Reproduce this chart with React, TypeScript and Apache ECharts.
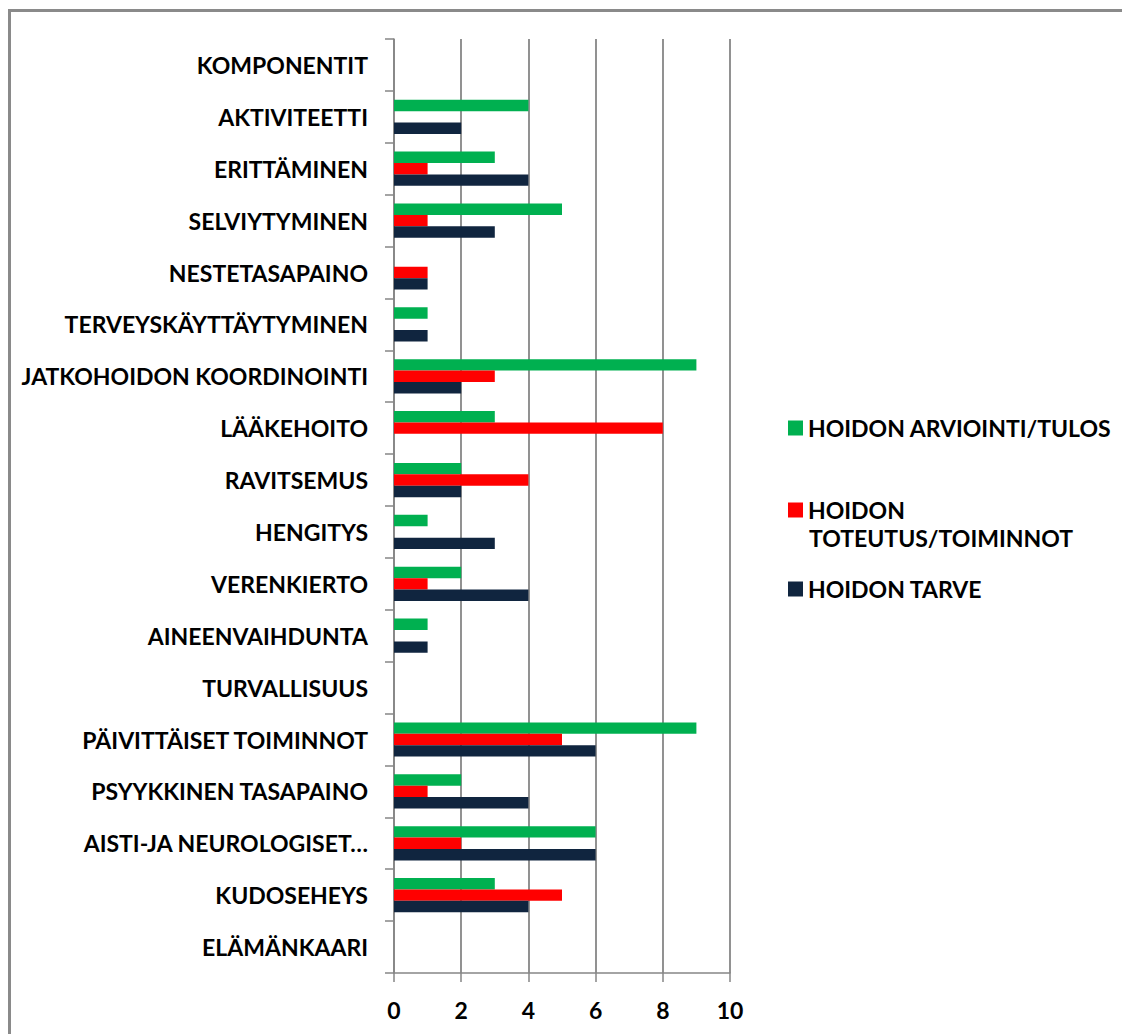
import React, { useEffect, useRef } from "react";
import * as echarts from "echarts";

const categories = [
  "KOMPONENTIT",
  "AKTIVITEETTI",
  "ERITTÄMINEN",
  "SELVIYTYMINEN",
  "NESTETASAPAINO",
  "TERVEYSKÄYTTÄYTYMINEN",
  "JATKOHOIDON KOORDINOINTI",
  "LÄÄKEHOITO",
  "RAVITSEMUS",
  "HENGITYS",
  "VERENKIERTO",
  "AINEENVAIHDUNTA",
  "TURVALLISUUS",
  "PÄIVITTÄISET TOIMINNOT",
  "PSYYKKINEN TASAPAINO",
  "AISTI-JA NEUROLOGISET…",
  "KUDOSEHEYS",
  "ELÄMÄNKAARI",
];

const arviointi = [0, 4, 3, 5, 0, 1, 9, 3, 2, 1, 2, 1, 0, 9, 2, 6, 3, 0];
const toteutus = [0, 0, 1, 1, 1, 0, 3, 8, 4, 0, 1, 0, 0, 5, 1, 2, 5, 0];
const tarve = [0, 2, 4, 3, 1, 1, 2, 0, 2, 3, 4, 1, 0, 6, 4, 6, 4, 0];

const seriesNames = [
  "HOIDON ARVIOINTI/TULOS",
  "HOIDON TOTEUTUS/TOIMINNOT",
  "HOIDON TARVE",
];

const FONT = "Lato";
const GREEN = "#00B050";
const RED = "#FF0000";
const NAVY = "#10253F";
const GRID = "#868686";

export default function App() {
  const ref = useRef<HTMLDivElement>(null);

  useEffect(() => {
    if (!ref.current) return;
    const chart = echarts.init(ref.current, undefined, { renderer: "svg" });
    const legendText = {
      color: "#000",
      fontFamily: FONT,
      fontWeight: "bold",
      fontSize: 23,
      lineHeight: 26,
    };
    const legendBase = {
      orient: "vertical",
      left: 780,
      padding: 0,
      itemWidth: 15,
      itemHeight: 15,
      itemGap: 6,
      icon: "rect",
      textStyle: legendText,
    };
    chart.setOption({
      animation: false,
      backgroundColor: "#fff",
      textStyle: { fontFamily: FONT },
      grid: { left: 386, right: 400, top: 31, height: 934, containLabel: false },
      legend: [
        { ...legendBase, top: 407, data: [seriesNames[0]] },
        {
          ...legendBase,
          top: 489,
          data: [seriesNames[1]],
          formatter: () => "HOIDON",
        },
        { ...legendBase, top: 568, data: [seriesNames[2]] },
      ],
      graphic: [
        {
          type: "rect",
          shape: { x: 1.5, y: 2.5, width: 1200, height: 1200 },
          style: { fill: "none", stroke: "#8a8a8a", lineWidth: 3 },
          silent: true,
        },
        {
          type: "text",
          left: 801,
          top: 518,
          style: {
            text: "TOTEUTUS/TOIMINNOT",
            fill: "#000",
            font: `bold 23px ${FONT}`,
          },
          silent: true,
        },
      ],
      xAxis: {
        type: "value",
        min: 0,
        max: 10,
        interval: 2,
        axisLine: { show: true, lineStyle: { color: GRID, width: 1.5 } },
        axisTick: { show: true, length: 9, lineStyle: { color: GRID, width: 1.5 } },
        axisLabel: {
          color: "#000",
          fontFamily: FONT,
          fontWeight: "bold",
          fontSize: 23,
          margin: 25,
        },
        splitLine: { show: true, lineStyle: { color: GRID, width: 1.8 } },
      },
      yAxis: {
        type: "category",
        inverse: true,
        data: categories,
        axisLine: { show: true, lineStyle: { color: GRID, width: 1.5 } },
        axisTick: { show: true, length: 9, lineStyle: { color: GRID, width: 1.5 } },
        axisLabel: {
          color: "#000",
          fontFamily: FONT,
          fontWeight: "bold",
          fontSize: 23,
          margin: 26,
        },
        splitLine: { show: false },
      },
      series: [
        {
          name: seriesNames[0],
          type: "bar",
          data: arviointi,
          itemStyle: { color: GREEN },
          barCategoryGap: "34%",
          barGap: "0%",
        },
        {
          name: seriesNames[1],
          type: "bar",
          data: toteutus,
          itemStyle: { color: RED },
          barCategoryGap: "34%",
          barGap: "0%",
        },
        {
          name: seriesNames[2],
          type: "bar",
          data: tarve,
          itemStyle: { color: NAVY },
          barCategoryGap: "34%",
          barGap: "0%",
        },
      ],
    });
    return () => chart.dispose();
  }, []);

  return <div ref={ref} style={{ width: 1122, height: 1026 }} />;
}
